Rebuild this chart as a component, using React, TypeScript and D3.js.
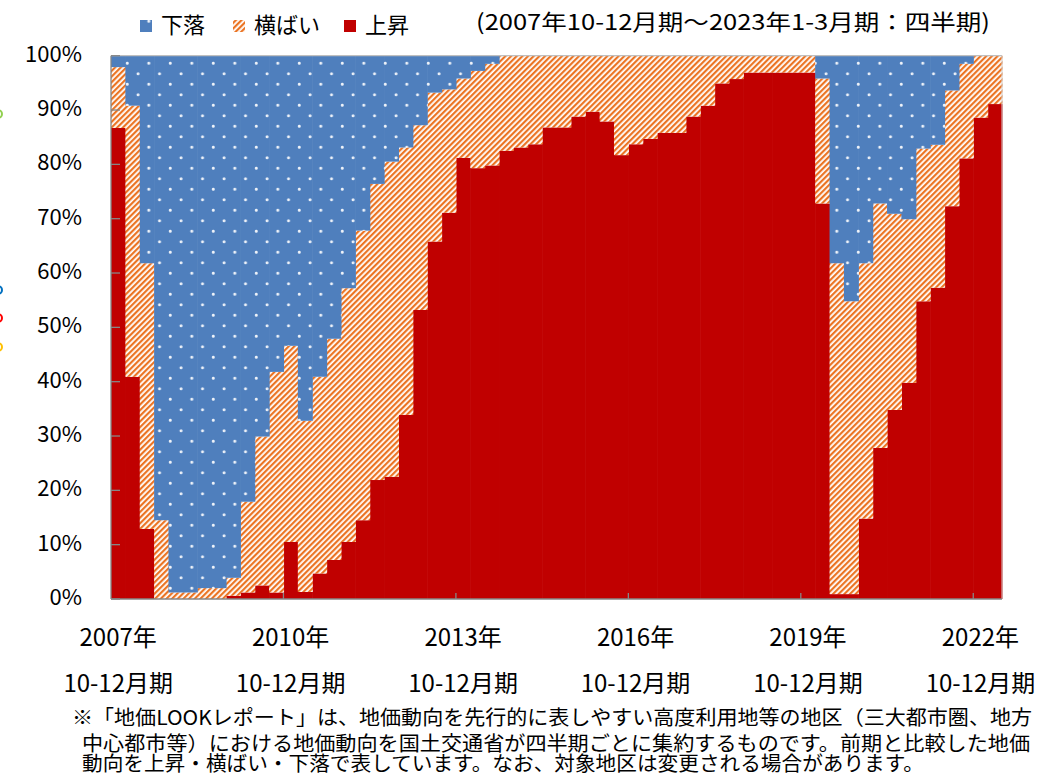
import React from "react";
import * as d3 from "d3";

// 上昇 (rise), 横ばい (flat), 下落 (fall) shares in %, quarterly 2007 10-12 .. 2023 1-3
const up = [
  86.7, 40.9, 12.9, 0, 0, 0, 0, 0, 0.6, 1.2, 2.5, 1.2, 10.5, 1.3, 4.7, 7.2,
  10.5, 14.5, 21.9, 22.5, 33.9, 53.2, 65.8, 71.1, 81.2, 79.3, 79.8, 82.5, 83.1, 83.7, 86.8, 86.8,
  88.8, 89.7, 87.9, 81.7, 83.7, 84.7, 85.8, 85.8, 88.8, 90.8, 94.9, 95.7, 96.9, 96.9, 96.9, 96.9,
  96.9, 72.8, 0.9, 0.9, 14.8, 27.8, 34.8, 39.8, 54.8, 57.3, 72.3, 81.1, 88.6, 91.1,
];
const flat = [
  11.2, 49.9, 48.9, 14.5, 1.2, 1.2, 2.0, 2.0, 3.3, 16.7, 27.4, 40.6, 36.1, 31.5, 36.2, 40.7,
  46.7, 53.3, 54.5, 58.0, 49.2, 34.0, 27.4, 22.7, 14.6, 17.9, 18.7, 17.5, 16.9, 16.3, 13.2, 13.2,
  11.2, 10.3, 12.1, 18.3, 16.3, 15.3, 14.2, 14.2, 11.2, 9.2, 5.1, 4.3, 3.1, 3.1, 3.1, 3.1,
  3.1, 23.0, 60.9, 53.9, 47.0, 45.0, 36.1, 30.1, 28.1, 26.3, 21.3, 17.4, 11.4, 8.9,
];
const down = [
  2.1, 9.2, 38.2, 85.5, 98.8, 98.8, 98.0, 98.0, 96.1, 82.1, 70.1, 58.2, 53.4, 67.2, 59.1, 52.1,
  42.8, 32.2, 23.6, 19.5, 16.9, 12.8, 6.8, 6.2, 4.2, 2.8, 1.5, 0, 0, 0, 0, 0,
  0, 0, 0, 0, 0, 0, 0, 0, 0, 0, 0, 0, 0, 0, 0, 0,
  0, 4.2, 38.2, 45.2, 38.2, 27.2, 29.1, 30.1, 17.1, 16.4, 6.4, 1.5, 0, 0,
];

const quarterNames = ["1-3月期", "4-6月期", "7-9月期", "10-12月期"];
const categories: string[] = [];
for (let k = 0; k < up.length; k++) {
  const q = 3 + k; // start at 2007 Q4
  categories.push(`${2007 + Math.floor(q / 4)}年${quarterNames[q % 4]}`);
}

const xTickIdx = [0, 12, 24, 36, 48, 60];
const xTickYear = ["2007年", "2010年", "2013年", "2016年", "2019年", "2022年"];
const xTickQuarter = "10-12月期";
const yTicks = [0, 10, 20, 30, 40, 50, 60, 70, 80, 90, 100];

const legendItems = [
  { label: "下落", fill: "url(#dots)" },
  { label: "横ばい", fill: "url(#hatch)" },
  { label: "上昇", fill: "#C00000" },
];
const title = "(2007年10-12月期～2023年1-3月期：四半期)";
const notes = [
  "※「地価LOOKレポート」は、地価動向を先行的に表しやすい高度利用地等の地区（三大都市圏、地方",
  "中心都市等）における地価動向を国土交通省が四半期ごとに集約するものです。前期と比較した地価",
  "動向を上昇・横ばい・下落で表しています。なお、対象地区は変更される場合があります。",
];

const FONT = "'Noto Sans CJK JP', 'Noto Sans', sans-serif";

export default function App() {
  const W = 1041, H = 776;
  const left = 111, right = 1002, top = 55.7, bottom = 599;
  const x = d3.scaleBand<number>().domain(d3.range(up.length)).range([left, right]).padding(0);
  const y = d3.scaleLinear().domain([0, 100]).range([bottom, top]);
  const bw = x.bandwidth();

  const series = [
    { key: "up", fill: "#C00000", vals: up, base: (i: number) => 0 },
    { key: "flat", fill: "url(#hatch)", vals: flat, base: (i: number) => up[i] },
    { key: "down", fill: "url(#dots)", vals: down, base: (i: number) => up[i] + flat[i] },
  ];

  const legendX = [140, 233, 344];
  const noteX = [72, 82, 82];
  const noteLen = [960, 948, 842];
  const noteY = [725, 751, 771];

  return (
    <svg width={W} height={H} style={{ position: "absolute", left: 0, top: 0, background: "#fff" }}
      fontFamily={FONT}>
      <defs>
        <pattern id="dots" width={21.5} height={21} patternUnits="userSpaceOnUse">
          <rect width={21.5} height={21} fill="#4F7FBD" />
          <circle cx={19.8} cy={0.3} r={1.5} fill="#fff" opacity={0.9} />
          <circle cx={9.05} cy={10.8} r={1.5} fill="#fff" opacity={0.9} />
          <circle cx={-1.7} cy={0.3} r={1.5} fill="#fff" opacity={0.9} />
          <circle cx={19.8} cy={21.3} r={1.5} fill="#fff" opacity={0.9} />
          <circle cx={-1.7} cy={21.3} r={1.5} fill="#fff" opacity={0.9} />
        </pattern>
        <pattern id="hatch" width={4} height={4} patternUnits="userSpaceOnUse" patternTransform="rotate(45)">
          <rect width={4} height={4} fill="#fff" />
          <rect width={2.2} height={4} fill="#EB7423" />
        </pattern>
      </defs>

      {/* legend */}
      {legendItems.map((d, i) => (
        <g key={d.label}>
          <rect x={legendX[i]} y={20} width={12} height={12} fill={d.fill} />
          <text x={legendX[i] + 21} y={33} fontSize={22} fill="#000">{d.label}</text>
        </g>
      ))}
      <text x={476} y={30} fontSize={22} fill="#000" textLength={514} lengthAdjust="spacingAndGlyphs">{title}</text>

      {/* bars */}
      {series.map((s) => (
        <g key={s.key}>
          {s.vals.map((v, i) =>
            v > 0 ? (
              <rect key={i} x={x(i)!} width={bw + 0.6} y={y(s.base(i) + v)} height={y(s.base(i)) - y(s.base(i) + v)} fill={s.fill} />
            ) : null
          )}
        </g>
      ))}

      {/* plot frame */}
      <line x1={left} x2={right} y1={top} y2={top} stroke="#BFBFBF" strokeWidth={1.2} />
      <line x1={right} x2={right} y1={top} y2={bottom} stroke="#D0D0D0" strokeWidth={1} />
      <line x1={left} x2={left} y1={top} y2={bottom} stroke="#868686" strokeWidth={1.3} />
      <line x1={left} x2={right} y1={bottom} y2={bottom} stroke="#868686" strokeWidth={1.4} />
      {yTicks.map((t) => (
        <g key={t}>
          <line x1={left} x2={left + 9} y1={y(t)} y2={y(t)} stroke="#868686" strokeWidth={1.3} />
          <text x={82} y={y(t) + 6} textAnchor="end" fontSize={22} fill="#000">{t}%</text>
        </g>
      ))}
      {xTickIdx.map((idx, k) => (
        <g key={idx}>
          {idx > 0 && <line x1={x(idx)!} x2={x(idx)!} y1={bottom} y2={bottom - 6} stroke="#868686" strokeWidth={1.3} />}
          <text x={x(idx)! + bw / 2} y={646} textAnchor="middle" fontSize={24} fill="#000">{xTickYear[k]}</text>
          <text x={x(idx)! + bw / 2} y={692} textAnchor="middle" fontSize={24} fill="#000">{xTickQuarter}</text>
        </g>
      ))}

      {/* footnote */}
      {notes.map((n, i) => (
        <text key={i} x={noteX[i]} y={noteY[i]} fontSize={20} fill="#000" textLength={noteLen[i]} lengthAdjust="spacingAndGlyphs">{n}</text>
      ))}

      {/* cut-off markers at the left edge */}
      <circle cx={-2} cy={114} r={4} fill="none" stroke="#92D050" strokeWidth={2} />
      <circle cx={-2} cy={290} r={4} fill="none" stroke="#0070C0" strokeWidth={2} />
      <circle cx={-2} cy={318} r={4} fill="none" stroke="#FF0000" strokeWidth={2} />
      <circle cx={-2} cy={347} r={4} fill="none" stroke="#FFC000" strokeWidth={2} />
    </svg>
  );
}
